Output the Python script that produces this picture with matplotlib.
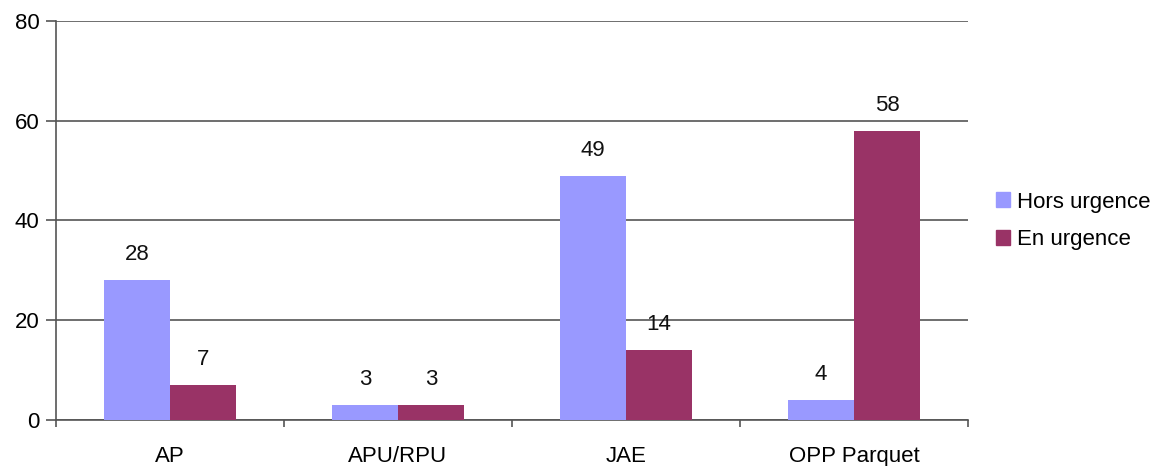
import numpy as np
import matplotlib
matplotlib.use('Agg')
import matplotlib.pyplot as plt
from matplotlib.patches import Patch

categories = ['AP', 'APU/RPU', 'JAE', 'OPP Parquet']
hors_urgence = [28, 3, 49, 4]
en_urgence = [7, 3, 14, 58]
series_names = ['Hors urgence', 'En urgence']
colors = ['#9999FF', '#993366']

plt.rcParams['font.family'] = ['Liberation Sans', 'DejaVu Sans']

fig = plt.figure(figsize=(11.7, 4.66), dpi=100)
ax = fig.add_axes([56 / 1170, 1 - 420 / 466, 912 / 1170, 399 / 466])

x = np.arange(len(categories))
w = 0.29
b1 = ax.bar(x - w / 2, hors_urgence, w, color=colors[0], zorder=3)
b2 = ax.bar(x + w / 2, en_urgence, w, color=colors[1], zorder=3)

for bars, vals in [(b1, hors_urgence), (b2, en_urgence)]:
    for rect, v in zip(bars, vals):
        ax.text(rect.get_x() + rect.get_width() / 2, v + 3.0, str(v),
                ha='center', va='bottom', fontsize=16, color='#111111')

ax.set_xlim(-0.5, len(categories) - 0.5)
ax.set_ylim(0, 80)
ax.set_yticks([0, 20, 40, 60, 80])
ax.yaxis.grid(True, color='#555555', linewidth=1.2, zorder=0)
ax.tick_params(axis='y', labelsize=16, length=7, color='#555555', width=1.2, pad=5)

ax.set_xticks(x)
ax.set_xticklabels(categories)
ax.set_xticks(np.arange(len(categories) + 1) - 0.5, minor=True)
ax.tick_params(axis='x', which='major', length=0, labelsize=16, pad=19)
ax.tick_params(axis='x', which='minor', length=5, color='#555555', width=1.2)

for s in ['top', 'right']:
    ax.spines[s].set_visible(False)
for s in ['left', 'bottom']:
    ax.spines[s].set_color('#555555')
    ax.spines[s].set_linewidth(1.2)

handles = [Patch(color=c, label=n) for c, n in zip(colors, series_names)]
fig.legend(handles=handles, loc='center left', bbox_to_anchor=(976 / 1170, 1 - 221 / 466),
           frameon=False, fontsize=16, handlelength=0.65, handleheight=0.65,
           handletextpad=0.3, labelspacing=0.75)

fig.savefig('out.png', dpi=100)
